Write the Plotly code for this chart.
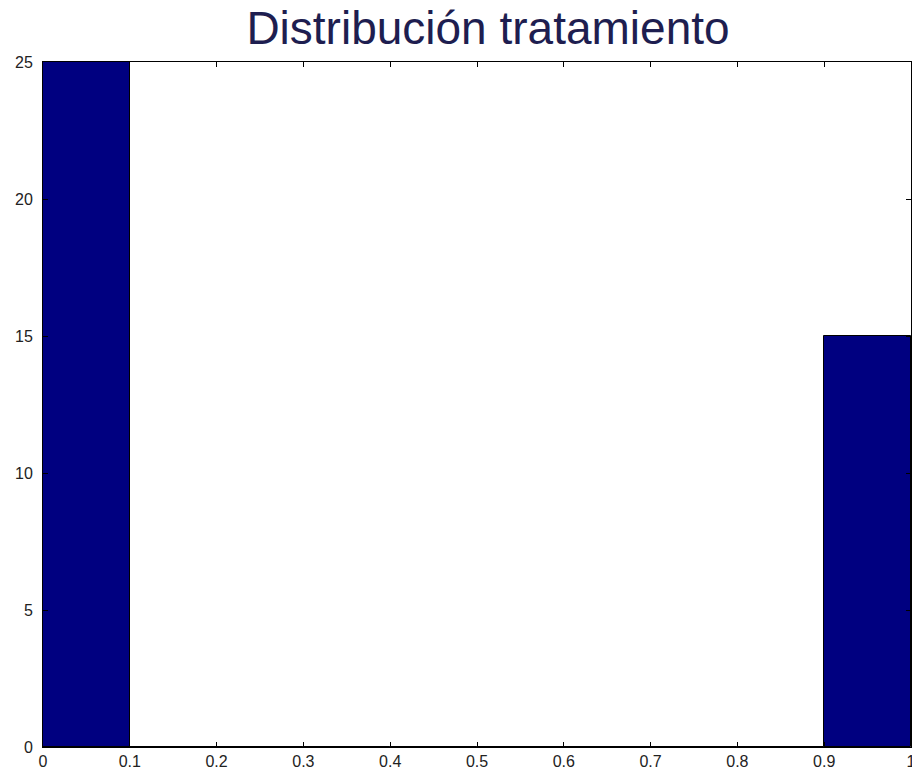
import plotly.graph_objects as go

# Histogram bins (left edges) and counts per bin
bin_edges = [0.0, 0.1, 0.2, 0.3, 0.4, 0.5, 0.6, 0.7, 0.8, 0.9, 1.0]
counts = [25, 0, 0, 0, 0, 0, 0, 0, 0, 15]
x_ticks = [0, 0.1, 0.2, 0.3, 0.4, 0.5, 0.6, 0.7, 0.8, 0.9, 1]
x_tick_labels = ["0", "0.1", "0.2", "0.3", "0.4", "0.5", "0.6", "0.7", "0.8", "0.9", "1"]
y_ticks = [0, 5, 10, 15, 20, 25]
title_text = "Distribución tratamiento"

centers = [(a + b) / 2 for a, b in zip(bin_edges[:-1], bin_edges[1:])]
widths = [b - a for a, b in zip(bin_edges[:-1], bin_edges[1:])]

fig = go.Figure(
    go.Bar(
        x=centers,
        y=counts,
        width=widths,
        marker=dict(color="#000080", line=dict(color="#000000", width=1)),
        showlegend=False,
    )
)

axis_common = dict(
    showline=True,
    linecolor="#000000",
    linewidth=1,
    mirror="ticks",
    ticks="inside",
    ticklen=5,
    tickcolor="#000000",
    showgrid=False,
    zeroline=False,
    ticklabeloverflow="allow",
    tickfont=dict(family="Liberation Sans, Arial, sans-serif", size=16, color="#222222"),
)

fig.update_xaxes(range=[0, 1], tickvals=x_ticks, ticktext=x_tick_labels,
                 ticklabelstandoff=0, **axis_common)
fig.update_yaxes(range=[0, 25], tickvals=y_ticks, ticklabelstandoff=6, **axis_common)

fig.update_layout(
    width=912,
    height=772,
    margin=dict(l=43, r=1, t=62, b=25, autoexpand=False),
    paper_bgcolor="#ffffff",
    plot_bgcolor="#ffffff",
    bargap=0,
    title=dict(
        text=title_text,
        x=488 / 912,
        xanchor="center",
        y=1 - 44 / 772,
        yanchor="bottom",
        yref="container",
        font=dict(family="Liberation Sans, Arial, sans-serif", size=46, color="#1e1e50"),
    ),
)

fig.write_html("out.html")
